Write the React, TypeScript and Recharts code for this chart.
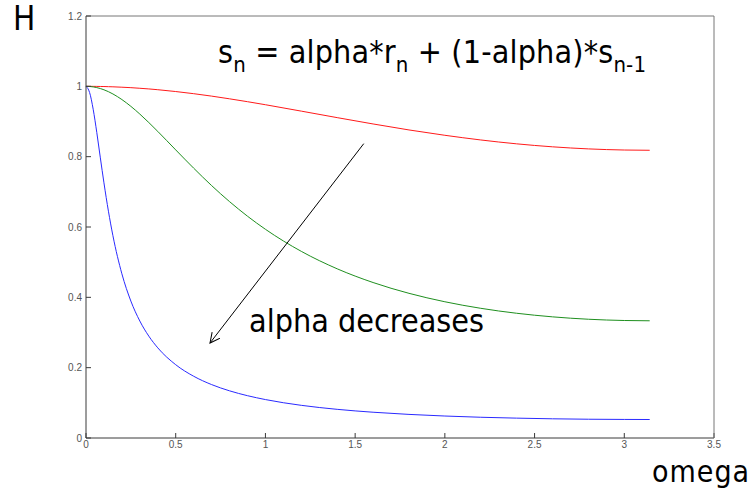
import React from "react";
import {
  LineChart, Line, XAxis, YAxis, ReferenceLine,
} from "recharts";

// frequency points (rad/sample)
const omega = [
  0, 0.02, 0.04, 0.06, 0.08, 0.1, 0.125, 0.15, 0.2, 0.25, 0.3, 0.35, 0.4, 0.5,
  0.6, 0.7, 0.8, 0.9, 1.0, 1.2, 1.4, 1.6, 1.8, 2.0, 2.2, 2.4, 2.6, 2.8, 3.0, 3.1416,
];

// |H|
const redH = [
  1.0, 1.0, 0.9999, 0.9998, 0.9996, 0.9994, 0.999, 0.9986, 0.9975, 0.9962, 0.9945, 0.9926, 0.9904, 0.9852,
  0.9791, 0.9722, 0.9645, 0.9563, 0.9477, 0.9295, 0.911, 0.893, 0.876, 0.8608, 0.8475, 0.8365, 0.828, 0.8221, 0.8189, 0.8182,
];
const greenH = [
  1.0, 0.9996, 0.9984, 0.9964, 0.9937, 0.9902, 0.9848, 0.9783, 0.9624, 0.9431, 0.9211, 0.8971, 0.8718, 0.8193,
  0.7673, 0.7178, 0.6722, 0.6307, 0.5935, 0.5307, 0.4811, 0.4421, 0.4114, 0.3874, 0.3688, 0.3547, 0.3445, 0.3377, 0.3341, 0.3333,
];
const blueH = [
  1.0, 0.9825, 0.9349, 0.8691, 0.7966, 0.7256, 0.6449, 0.5753, 0.4669, 0.3894, 0.3326, 0.2897, 0.2564, 0.2084,
  0.1756, 0.1519, 0.1341, 0.1203, 0.1093, 0.0929, 0.0815, 0.0733, 0.0671, 0.0625, 0.059, 0.0565, 0.0546, 0.0534, 0.0528, 0.0526,
];

const xTicks = [0, 0.5, 1, 1.5, 2, 2.5, 3, 3.5];
const yTicks = [0, 0.2, 0.4, 0.6, 0.8, 1, 1.2];

// arrow: tail and head in data units
const arrowFrom = { x: 1.548, y: 0.837 };
const arrowTo = { x: 0.691, y: 0.27 };

const data = omega.map((w, i) => ({ w, red: redH[i], green: greenH[i], blue: blueH[i] }));

const tickStyle = { fill: "#555", fontSize: 10, fontFamily: "Liberation Sans, Arial, sans-serif" };
const bigFont = { fontFamily: "DejaVu Sans Condensed, DejaVu Sans, sans-serif", fontStretch: "condensed" as const, color: "#000" };
const axisColor = "#3a3a3a";
const sub = { fontSize: 22, position: "relative" as const, top: 9 };

export default function App() {
  return (
    <div style={{ position: "absolute", left: 0, top: 0, width: 755, height: 492, background: "#fff" }}>
      <LineChart width={755} height={492} data={data} margin={{ top: 15, right: 40, left: 0, bottom: 0 }}>
        <defs>
          <marker id="openArrow" markerWidth="12" markerHeight="12" refX="10" refY="5" orient="auto" markerUnits="userSpaceOnUse">
            <path d="M0,0 L10,5 L0,10" fill="none" stroke="#000" strokeWidth={1} />
          </marker>
        </defs>
        <XAxis
          dataKey="w" type="number" domain={[0, 3.5]} ticks={xTicks} height={54}
          tick={tickStyle} tickSize={-5} tickMargin={8}
          axisLine={{ stroke: axisColor }} tickLine={{ stroke: axisColor }}
        />
        <XAxis
          xAxisId="top" orientation="top" dataKey="w" type="number" domain={[0, 3.5]} ticks={xTicks} height={1}
          tick={false} tickSize={-5} axisLine={{ stroke: "#777" }} tickLine={{ stroke: "#777" }}
        />
        <YAxis
          type="number" domain={[0, 1.2]} ticks={yTicks} width={86}
          tick={tickStyle} tickSize={-5} tickMargin={9}
          axisLine={{ stroke: axisColor }} tickLine={{ stroke: axisColor }}
        />
        <YAxis
          yAxisId="right" orientation="right" type="number" domain={[0, 1.2]} ticks={yTicks} width={1}
          tick={false} tickSize={-5} axisLine={{ stroke: "#777" }} tickLine={{ stroke: "#777" }}
        />
        <Line type="monotone" dataKey="red" stroke="#ff1a1a" strokeWidth={1} dot={false} isAnimationActive={false} />
        <Line type="monotone" dataKey="green" stroke="#1f8f1f" strokeWidth={1} dot={false} isAnimationActive={false} />
        <Line type="monotone" dataKey="blue" stroke="#2a2aff" strokeWidth={1} dot={false} isAnimationActive={false} />
        <ReferenceLine
          segment={[arrowFrom, arrowTo]}
          stroke="#000" strokeWidth={1} markerEnd="url(#openArrow)" ifOverflow="visible"
        />
      </LineChart>

      <div style={{ ...bigFont, position: "absolute", left: 13, top: 0, fontSize: 33, lineHeight: "38px" }}>H</div>
      <div style={{ ...bigFont, position: "absolute", left: 218, top: 33, fontSize: 32, lineHeight: "38px", whiteSpace: "nowrap", letterSpacing: 0.15 }}>
        s<span style={sub}>n</span>
        {" = alpha*r"}
        <span style={sub}>n</span>
        {" + (1-alpha)*s"}
        <span style={sub}>n-1</span>
      </div>
      <div style={{ ...bigFont, position: "absolute", left: 249, top: 302, fontSize: 32, lineHeight: "38px", whiteSpace: "nowrap" }}>
        alpha decreases
      </div>
      <div style={{ ...bigFont, position: "absolute", left: 652, top: 460, fontSize: 30, lineHeight: "24px", letterSpacing: 1 }}>omega</div>
    </div>
  );
}
